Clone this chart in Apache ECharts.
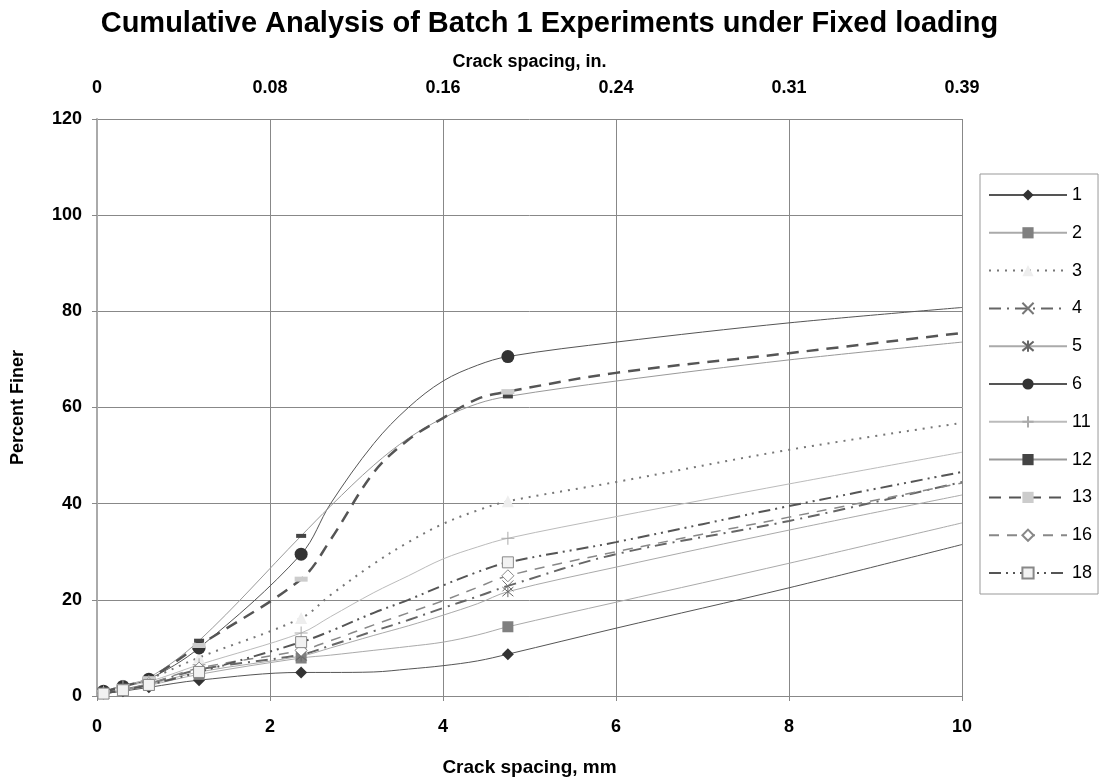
<!DOCTYPE html>
<html>
<head>
<meta charset="utf-8">
<script src="https://cdn.jsdelivr.net/npm/echarts@6/dist/echarts.min.js"></script>
<style>
html, body { margin: 0; padding: 0; background: #fff; }
#chart { width: 1099px; height: 782px; }
</style>
</head>
<body>
<div id="chart"></div>
<script>
// crack spacing, mm (markers only on the sieve points)
var spacing = [0.075, 0.3, 0.6, 1.18, 2.36, 2.7, 3.2, 3.6, 4.0, 4.4, 4.75, 6, 8, 10];
var marked = [0, 1, 2, 3, 4, 10];
var topLabels = ['0', '0.08', '0.16', '0.24', '0.31', '0.39'];

var s1 = [0.5, 1.0, 1.8, 3.3, 4.9, 4.9, 5.0, 5.6, 6.3, 7.3, 8.7, 14.1, 22.5, 31.5];
var s2 = [0.6, 1.2, 2.2, 4.5, 7.9, 8.5, 9.5, 10.3, 11.2, 12.7, 14.4, 19.5, 27.6, 36.0];
var s3 = [0.8, 1.8, 3.5, 8.0, 16.2, 21.0, 27.5, 32.0, 35.8, 38.6, 40.5, 44.5, 51.2, 56.8];
var s4 = [0.6, 1.3, 2.5, 5.5, 8.6, 10.5, 13.5, 15.8, 18.3, 20.7, 22.9, 29.5, 36.4, 44.5];
var s5 = [0.6, 1.3, 2.4, 5.0, 8.3, 10.0, 12.6, 14.6, 16.8, 19.2, 21.7, 26.8, 34.5, 41.8];
var s6 = [1.0, 2.0, 3.5, 10.0, 29.5, 40.0, 52.5, 60.0, 65.5, 68.8, 70.6, 73.6, 77.6, 80.8];
var s11 = [0.8, 2.0, 3.0, 6.5, 13.1, 16.5, 21.5, 25.0, 28.5, 31.0, 32.8, 37.3, 44.1, 50.7];
var s12 = [1.0, 2.2, 3.8, 11.5, 33.3, 39.5, 48.0, 53.6, 57.8, 60.8, 62.3, 65.5, 69.9, 73.6];
var s13 = [0.8, 2.0, 3.6, 10.5, 24.3, 32.5, 46.5, 53.3, 57.8, 61.8, 63.3, 67.2, 71.3, 75.5];
var s16 = [0.6, 1.3, 2.6, 5.8, 9.5, 11.5, 14.8, 17.3, 19.8, 22.6, 25.0, 30.0, 37.2, 44.3];
var s18 = [0.5, 1.2, 2.3, 5.0, 11.2, 13.5, 17.3, 20.0, 23.0, 25.8, 27.8, 32.0, 39.5, 46.6];

function pts(arr) {
	return spacing.map(function(x, i) {
		var d = { value: [x, arr[i]] };
		if (marked.indexOf(i) < 0) d.symbol = 'none';
		return d;
	});
}

function line(name, arr, lc, lw, ltype, sym, size, fill, border) {
	return {
		name: name,
		type: 'line',
		smooth: 0.35,
		data: pts(arr),
		symbol: sym,
		symbolSize: size,
		showAllSymbol: true,
		lineStyle: { color: lc, width: lw, type: ltype },
		itemStyle: { color: fill, borderColor: border || fill, borderWidth: border ? 1 : 0 }
	};
}

var crossPath = 'path://M0,0L10,10M10,0L0,10';
var starPath = 'path://M0,0L10,10M10,0L0,10M5,-1L5,11';
var plusPath = 'path://M5,0L5,10M0,5L10,5';

var myChart = echarts.init(document.getElementById('chart'));
var option = {
	backgroundColor: '#fff',
	animation: false,
	title: {
		text: 'Cumulative Analysis of Batch 1 Experiments under Fixed loading',
		left: 'center',
		top: 4,
		textStyle: { fontFamily: 'Liberation Sans', fontSize: 29, fontWeight: 'bold', color: '#000' }
	},
	legend: {
		orient: 'vertical',
		left: 980,
		top: 174,
		padding: [12, 6, 12, 8],
		itemWidth: 78,
		itemHeight: 14,
		itemGap: 19.8,
		borderColor: '#999',
		borderWidth: 1,
		textStyle: { fontFamily: 'Liberation Sans', fontSize: 18, color: '#000' },
		data: ['1', '2', '3', '4', '5', '6', '11', '12', '13', '16', '18']
	},
	grid: { left: 97, right: 137, top: 119, bottom: 86 },
	xAxis: [{
		type: 'value',
		min: 0,
		max: 10,
		interval: 2,
		name: 'Crack spacing, mm',
		nameLocation: 'middle',
		nameGap: 62,
		nameTextStyle: { fontFamily: 'Liberation Sans', fontSize: 19, fontWeight: 'bold', color: '#000' },
		axisLine: { show: true, onZero: false, lineStyle: { color: '#888' } },
		axisTick: { show: true, length: 5, lineStyle: { color: '#888' } },
		axisLabel: { margin: 22, fontFamily: 'Liberation Sans', fontSize: 18, fontWeight: 'bold', color: '#000' },
		splitLine: { show: true, lineStyle: { color: '#888', width: 1 } }
	}, {
		type: 'value',
		position: 'top',
		min: 0,
		max: 10,
		interval: 2,
		name: 'Crack spacing, in.',
		nameLocation: 'middle',
		nameGap: 48,
		nameTextStyle: { fontFamily: 'Liberation Sans', fontSize: 18, fontWeight: 'bold', color: '#000' },
		axisLine: { show: false },
		axisTick: { show: false },
		splitLine: { show: false },
		axisLabel: {
			margin: 22,
			fontFamily: 'Liberation Sans', fontSize: 18, fontWeight: 'bold', color: '#000',
			formatter: function(v) { return topLabels[Math.round(v / 2)]; }
		}
	}],
	yAxis: {
		type: 'value',
		min: 0,
		max: 120,
		interval: 20,
		name: 'Percent Finer',
		nameLocation: 'middle',
		nameGap: 70,
		nameTextStyle: { fontFamily: 'Liberation Sans', fontSize: 18, fontWeight: 'bold', color: '#000' },
		axisLine: { show: true, lineStyle: { color: '#aaa', width: 2 } },
		axisTick: { show: true, length: 5, lineStyle: { color: '#888' } },
		axisLabel: { margin: 15, fontFamily: 'Liberation Sans', fontSize: 18, fontWeight: 'bold', color: '#000' },
		splitLine: { show: true, lineStyle: { color: '#888', width: 1 } }
	},
	series: [
		line('1', s1, '#555', 1, 'solid', 'diamond', 12, '#333'),
		line('2', s2, '#aaa', 1, 'solid', 'rect', 11, '#808080'),
		line('3', s3, '#777', 2, [2, 6], 'triangle', 12, '#eee'),
		line('4', s4, '#666', 2, [12, 6, 2, 6], crossPath, 11, 'rgba(0,0,0,0)', '#777'),
		line('5', s5, '#aaa', 1, 'solid', starPath, 11, 'rgba(0,0,0,0)', '#666'),
		line('6', s6, '#555', 1, 'solid', 'circle', 13, '#333'),
		line('11', s11, '#bbb', 1, 'solid', plusPath, 13, 'rgba(0,0,0,0)', '#aaa'),
		line('12', s12, '#999', 1, 'solid', 'rect', [10, 4], '#444'),
		line('13', s13, '#555', 2.5, [12, 8], 'rect', [13, 5], '#ccc'),
		line('16', s16, '#888', 1.5, [10, 8], 'diamond', 12, '#fff', '#888'),
		line('18', s18, '#555', 2, [12, 5, 2, 5, 2, 5], 'rect', 11, '#f2f2f2', '#888')
	]
};
myChart.setOption(option);
</script>
</body>
</html>
